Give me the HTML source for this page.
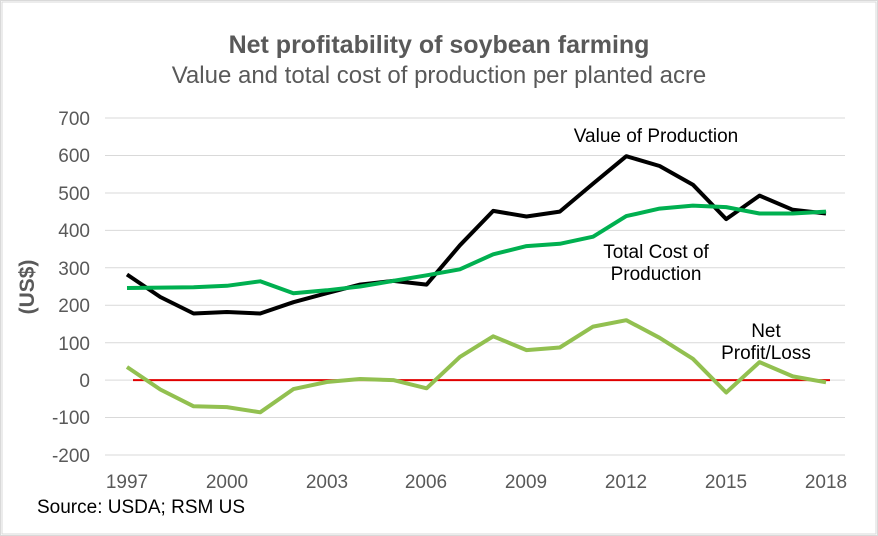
<!DOCTYPE html>
<html><head><meta charset="utf-8"><style>
html,body{margin:0;padding:0;background:#fff;}
svg{display:block;font-family:"Liberation Sans",sans-serif;}
</style></head><body>
<svg width="878" height="536" viewBox="0 0 878 536" xmlns="http://www.w3.org/2000/svg">
<rect x="0.5" y="0.5" width="877" height="535" fill="#fff" stroke="#d9d9d9"/>
<rect x="2" y="2" width="874" height="532" fill="none" stroke="#d9d9d9"/>
<text x="439" y="53" text-anchor="middle" font-size="25" font-weight="bold" fill="#595959">Net profitability of soybean farming</text>
<text x="439" y="83" text-anchor="middle" font-size="24" fill="#595959">Value and total cost of production per planted acre</text>
<g stroke="#d9d9d9" stroke-width="1">
<line x1="105" x2="845" y1="118" y2="118"/><line x1="105" x2="845" y1="155.5" y2="155.5"/>
<line x1="105" x2="845" y1="193" y2="193"/><line x1="105" x2="845" y1="230.4" y2="230.4"/>
<line x1="105" x2="845" y1="267.8" y2="267.8"/><line x1="105" x2="845" y1="305.2" y2="305.2"/>
<line x1="105" x2="845" y1="342.7" y2="342.7"/><line x1="105" x2="845" y1="380.1" y2="380.1"/>
<line x1="105" x2="845" y1="417.5" y2="417.5"/><line x1="105" x2="845" y1="455" y2="455"/>
</g>
<g font-size="19" fill="#595959" text-anchor="end">
<text x="90" y="125">700</text><text x="90" y="162">600</text><text x="90" y="200">500</text>
<text x="90" y="237">400</text><text x="90" y="275">300</text><text x="90" y="312">200</text>
<text x="90" y="350">100</text><text x="90" y="387">0</text><text x="90" y="424">-100</text>
<text x="90" y="462">-200</text>
</g>
<g font-size="19" fill="#595959" text-anchor="middle">
<text x="127" y="488">1997</text><text x="227" y="488">2000</text><text x="327" y="488">2003</text>
<text x="426" y="488">2006</text><text x="526" y="488">2009</text><text x="626" y="488">2012</text>
<text x="726" y="488">2015</text><text x="826" y="488">2018</text>
</g>
<text transform="translate(34,287) rotate(-90)" text-anchor="middle" font-size="21" font-weight="bold" fill="#595959">(US$)</text>
<line x1="133" x2="830" y1="380.1" y2="380.1" stroke="#e00000" stroke-width="2"/>
<polyline fill="none" stroke="#000" stroke-width="4" stroke-linejoin="round" points="127,274.5 160.3,297 193.6,313.5 226.9,312 260.2,313.5 293.4,302.2 326.7,293.2 360,284.6 393.3,280.9 426.6,284.6 459.9,245.3 493.2,210.9 526.5,216.5 559.8,211.6 593.1,183.6 626.3,156.2 659.6,166 692.9,184.7 726.2,219.1 759.5,195.6 792.8,209.8 826,213.5"/>
<polyline fill="none" stroke="#00b050" stroke-width="4" stroke-linejoin="round" points="127,288 160.3,287.6 193.6,287.2 226.9,285.8 260.2,281.3 293.4,293.2 326.7,290.3 360,286.5 393.3,280.9 426.6,275.3 459.9,269.3 493.2,254.3 526.5,246.1 559.8,243.8 593.1,236.7 626.3,216.1 659.6,208.6 692.9,205.6 726.2,207.1 759.5,213.5 792.8,213.5 826,211.6"/>
<polyline fill="none" stroke="#92c050" stroke-width="4" stroke-linejoin="round" points="127,367 160.3,389.5 193.6,406.3 226.9,407.1 260.2,412.3 293.4,389.1 326.7,382 360,379 393.3,380.1 426.6,388.3 459.9,356.9 493.2,336.3 526.5,350.1 559.8,347.5 593.1,326.6 626.3,320.2 659.6,337.8 692.9,358.8 726.2,392.5 759.5,362.1 792.8,376.4 826,382.3"/>
<g font-size="19" fill="#000" text-anchor="middle">
<text x="656" y="142">Value of Production</text>
<text x="656" y="258">Total Cost of</text><text x="656" y="280">Production</text>
<text x="766" y="337">Net</text><text x="766" y="359">Profit/Loss</text>
</g>
<text x="37" y="513" font-size="19" fill="#000">Source: USDA; RSM US</text>
</svg>
</body></html>
